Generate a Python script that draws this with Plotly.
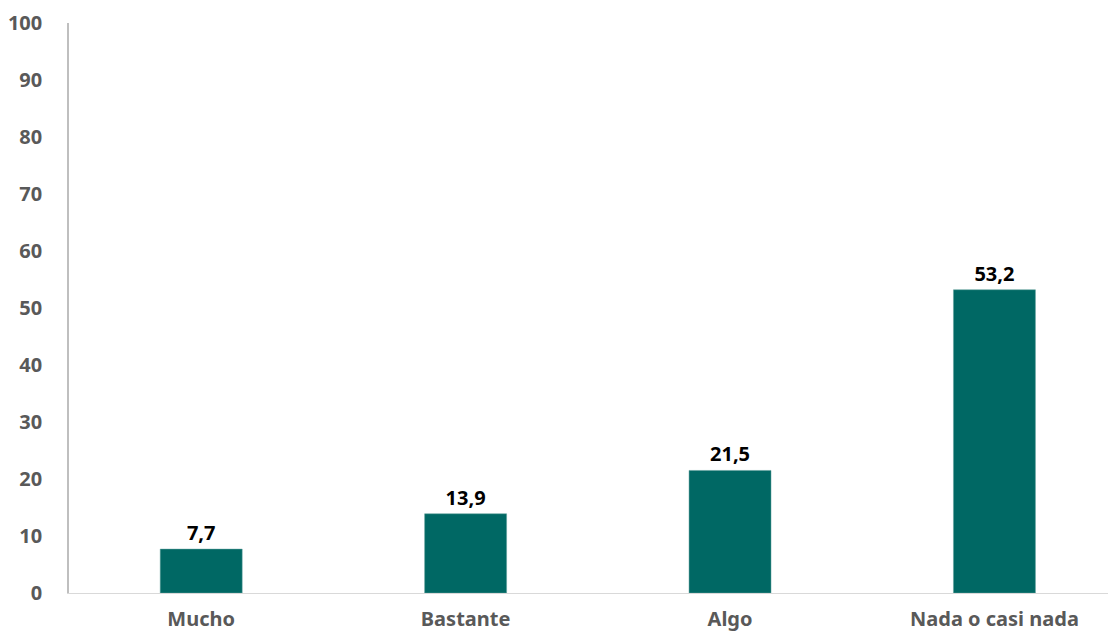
import plotly.graph_objects as go

categories = ["Mucho", "Bastante", "Algo", "Nada o casi nada"]
values = [7.7, 13.9, 21.5, 53.2]
labels = ["7,7", "13,9", "21,5", "53,2"]
y_ticks = [0, 10, 20, 30, 40, 50, 60, 70, 80, 90, 100]

FONT = "Noto Sans, Open Sans, sans-serif"

fig = go.Figure()
fig.add_trace(go.Bar(
    x=list(range(len(categories))),
    y=values,
    text=labels,
    textposition="outside",
    textfont=dict(family=FONT, size=20, color="#000000", weight="bold"),
    marker=dict(color="#006864", line=dict(color="#5f9f9b", width=0.5)),
    width=0.31,
    cliponaxis=False,
))

fig.update_layout(
    width=1116, height=631,
    margin=dict(l=56, r=0, t=15, b=46),
    plot_bgcolor="white", paper_bgcolor="white",
    showlegend=False,
    font=dict(family=FONT),
)
fig.update_xaxes(
    range=[-0.5, 3.49],
    tickmode="array",
    tickvals=list(range(len(categories))),
    ticktext=categories,
    tickfont=dict(size=20, color="#595959", weight="bold"),
    showgrid=False, zeroline=False,
    showline=True, linecolor="#d9d9d9", linewidth=1,
    ticks="", ticklabelstandoff=8,
)
fig.update_yaxes(
    range=[0, 100],
    tickmode="array",
    tickvals=y_ticks,
    ticktext=[str(v) for v in y_ticks],
    tickfont=dict(size=20, color="#595959", weight="bold"),
    showgrid=False, zeroline=False,
    showline=True, linecolor="#bfbfbf", linewidth=1.5,
    ticks="", ticklabelstandoff=21,
)

fig.write_html("out.html")
